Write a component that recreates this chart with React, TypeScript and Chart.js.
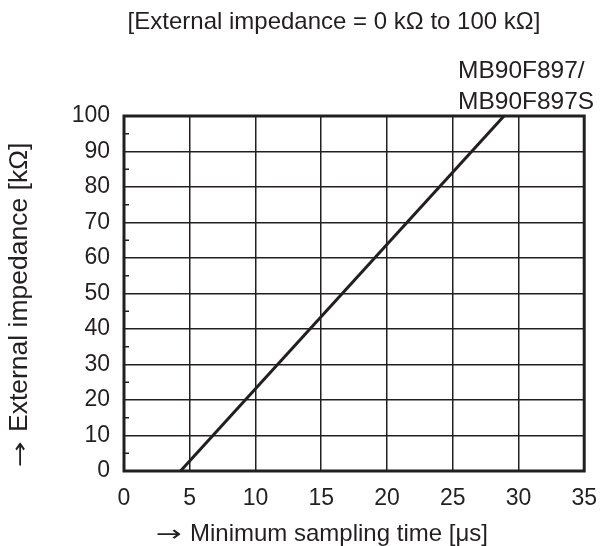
import React, { useEffect, useRef } from "react";
import { Chart, registerables } from "chart.js";

Chart.register(...registerables);

const seriesX = [4.3, 28.9];
const seriesY = [0, 100];
const yMinorTicks = [5, 15, 25, 35, 45, 55, 65, 75, 85, 95];
const chartTitle = "[External impedance = 0 k\u03A9 to 100 k\u03A9]";
const seriesLabel = ["MB90F897/", "MB90F897S"];
const xTitle = "Minimum sampling time [\u03BCs]";
const yTitle = "External impedance [k\u03A9]";
const ARROW = "\u2192";

const FONT = "'Liberation Sans', Arial, sans-serif";
const INK = "#231f20";

function drawArrow(ctx: CanvasRenderingContext2D, x: number, y: number, width: number) {
  ctx.save();
  ctx.font = `22px 'DejaVu Sans', sans-serif`;
  ctx.textAlign = "left";
  ctx.textBaseline = "alphabetic";
  const w = ctx.measureText(ARROW).width;
  ctx.translate(x, y);
  ctx.scale(width / w, 1);
  ctx.fillText(ARROW, 0, 0);
  ctx.restore();
}

export default function App() {
  const ref = useRef<HTMLCanvasElement | null>(null);
  useEffect(() => {
    if (!ref.current) return;
    const framePlugin = {
      id: "frame",
      afterDatasetsDraw(chart: any) {
        const { ctx, chartArea } = chart;
        const ys = chart.scales.y;
        ctx.save();
        ctx.strokeStyle = INK;
        ctx.lineWidth = 3;
        ctx.strokeRect(chartArea.left, chartArea.top, chartArea.right - chartArea.left, chartArea.bottom - chartArea.top);
        ctx.lineWidth = 1.5;
        for (const v of yMinorTicks) {
          const py = ys.getPixelForValue(v);
          ctx.beginPath();
          ctx.moveTo(chartArea.left, py);
          ctx.lineTo(chartArea.left + 5, py);
          ctx.stroke();
        }
        ctx.fillStyle = INK;
        ctx.font = `24px ${FONT}`;
        ctx.textBaseline = "alphabetic";
        ctx.textAlign = "center";
        ctx.fillText(chartTitle, 334, 29);
        ctx.textAlign = "left";
        ctx.font = `24.5px ${FONT}`;
        ctx.fillText(seriesLabel[0], 458, 78);
        ctx.fillText(seriesLabel[1], 458, 109);

        // x axis title
        drawArrow(ctx, 156, 541, 26);
        ctx.font = `24px ${FONT}`;
        ctx.fillText(xTitle, 190, 541);

        // y axis title
        ctx.save();
        ctx.translate(27, 467);
        ctx.rotate(-Math.PI / 2);
        drawArrow(ctx, 0, 0, 26);
        ctx.font = `26.5px ${FONT}`;
        ctx.textAlign = "left";
        ctx.fillText(yTitle, 35, 0);
        ctx.restore();
        ctx.restore();
      },
    };
    const chart = new Chart(ref.current, {
      type: "line",
      data: {
        datasets: [
          {
            data: seriesX.map((x, i) => ({ x, y: seriesY[i] })),
            borderColor: INK,
            borderWidth: 3,
            pointRadius: 0,
            fill: false,
          },
        ],
      },
      options: {
        animation: false,
        responsive: false,
        maintainAspectRatio: false,
        layout: { padding: { top: 116, right: 17, left: 0, bottom: 0 } },
        plugins: { legend: { display: false }, tooltip: { enabled: false }, title: { display: false } },
        scales: {
          x: {
            type: "linear",
            min: 0,
            max: 35,
            ticks: { stepSize: 5, color: INK, font: { family: FONT, size: 23 }, padding: 14 },
            grid: { color: INK, lineWidth: 1.5, drawTicks: false },
            border: { display: false },
            title: { display: false },
            afterFit(scale: any) {
              scale.height = 75;
            },
          },
          y: {
            type: "linear",
            min: 0,
            max: 100,
            ticks: { stepSize: 10, color: INK, font: { family: FONT, size: 23 }, padding: 14 },
            grid: { color: INK, lineWidth: 1.5, drawTicks: false },
            border: { display: false },
            title: { display: false },
            afterFit(scale: any) {
              scale.width = 124;
            },
          },
        },
      },
      plugins: [framePlugin],
    });
    return () => chart.destroy();
  }, []);
  return (
    <div style={{ position: "fixed", left: 0, top: 0, width: 611, height: 546, background: "#fff" }}>
      <canvas ref={ref} width={611} height={546} style={{ width: 611, height: 546 }} />
    </div>
  );
}
